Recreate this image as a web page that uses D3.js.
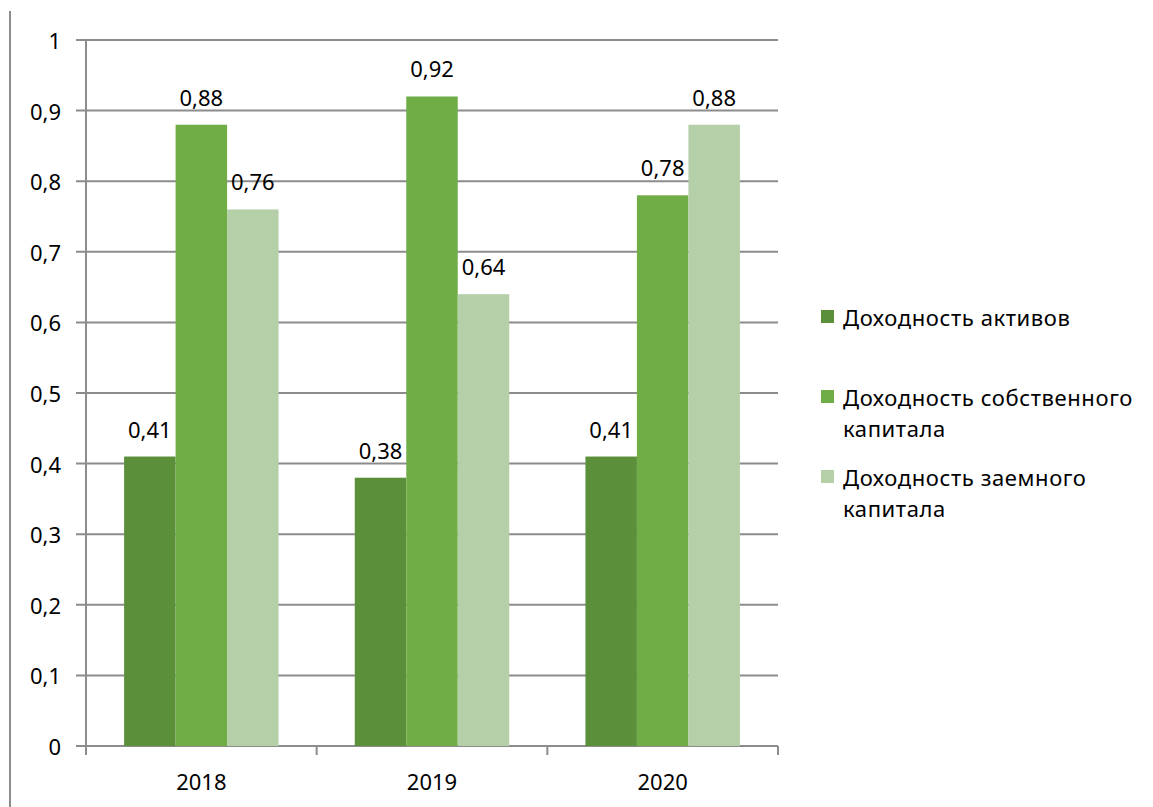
<!DOCTYPE html>
<html><head><meta charset="utf-8">
<script src="https://cdn.jsdelivr.net/npm/d3@7"></script>
<style>body{margin:0;background:#fff}text{font-family:"Noto Sans",sans-serif;fill:#000}</style>
</head><body><svg id="c" width="1153" height="807"></svg>
<script>
const categories = ["2018","2019","2020"];
const seriesNames = ["Доходность активов","Доходность собственного капитала","Доходность заемного капитала"];
const legendLines = [["Доходность активов"],["Доходность собственного","капитала"],["Доходность заемного","капитала"]];
const assets = [0.41,0.38,0.41];
const equity = [0.88,0.92,0.78];
const debt = [0.76,0.64,0.88];
const yTicks = [0,0.1,0.2,0.3,0.4,0.5,0.6,0.7,0.8,0.9,1];
const colors = ["#5B8F3A","#70AD47","#B5D0A8"];
const seriesValues = [assets,equity,debt];

const svg = d3.select("#c");
const gridCol = "#8C8C8C";
const FS = 22;
const x = d3.scaleBand().domain(categories).range([86,778]).paddingInner(0).paddingOuter(0);
const inner = d3.scaleBand().domain([0,1,2]).range([0,x.bandwidth()]).paddingOuter(0.74).paddingInner(0);
const y = d3.scaleLinear().domain([0,1]).range([746,40]);
const fmt = v => String(v).replace(".",",");

// left border
svg.append("line").attr("x1",10).attr("x2",10).attr("y1",11).attr("y2",807).attr("stroke",gridCol).attr("stroke-width",2);

// gridlines
svg.append("g").selectAll("line").data(yTicks).join("line")
  .attr("x1",76).attr("x2",778).attr("y1",d=>y(d)).attr("y2",d=>y(d))
  .attr("stroke",gridCol).attr("stroke-width",2);
// y axis line
svg.append("line").attr("x1",86).attr("x2",86).attr("y1",y(1)).attr("y2",755).attr("stroke",gridCol).attr("stroke-width",2);
// category ticks
const bounds = categories.map(c=>x(c)).concat([x(categories[categories.length-1])+x.bandwidth()]);
svg.append("g").selectAll("line").data(bounds.slice(1)).join("line")
  .attr("x1",d=>d).attr("x2",d=>d).attr("y1",y(0)).attr("y2",755).attr("stroke",gridCol).attr("stroke-width",2);

// y labels
svg.append("g").selectAll("text").data(yTicks).join("text")
  .attr("x",61).attr("y",d=>y(d)).attr("text-anchor","end").attr("dominant-baseline","central")
  .attr("font-size",FS).text(d=>fmt(d));

// bars
seriesValues.forEach((vals,si)=>{
  const g = svg.append("g");
  g.selectAll("rect").data(vals).join("rect")
    .attr("x",(d,i)=>x(categories[i])+inner(si)).attr("width",inner.bandwidth())
    .attr("y",d=>y(d)).attr("height",d=>y(0)-y(d)).attr("fill",colors[si]);
  g.selectAll("text").data(vals).join("text")
    .attr("x",(d,i)=>x(categories[i])+inner(si)+inner.bandwidth()/2)
    .attr("y",d=>y(d)-28).attr("text-anchor","middle").attr("dominant-baseline","central")
    .attr("font-size",FS).text(d=>fmt(d));
});

// x labels
svg.append("g").selectAll("text").data(categories).join("text")
  .attr("x",d=>x(d)+x.bandwidth()/2).attr("y",781).attr("text-anchor","middle")
  .attr("dominant-baseline","central").attr("font-size",FS).text(d=>d);

// legend
const legY = [317,397,477];
legendLines.forEach((lines,i)=>{
  svg.append("rect").attr("x",821).attr("y",legY[i]-7).attr("width",13).attr("height",13).attr("fill",colors[i]);
  lines.forEach((t,j)=>{
    svg.append("text").attr("x",843).attr("y",legY[i]+j*31).attr("dominant-baseline","central")
      .attr("font-size",FS).attr("letter-spacing",0.6).text(t);
  });
});
</script></body></html>
